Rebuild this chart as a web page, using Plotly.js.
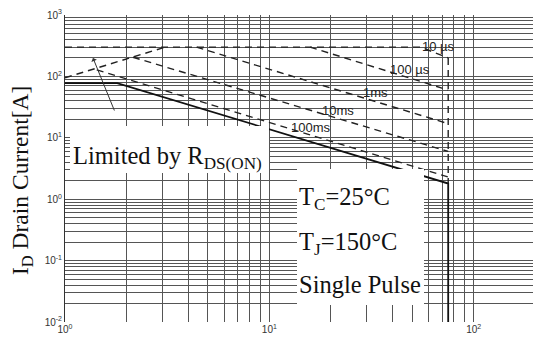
<!DOCTYPE html>
<html>
<head>
<meta charset="utf-8">
<script src="https://cdn.plot.ly/plotly-3.0.1.min.js"></script>
<style>html,body{margin:0;padding:0;background:#fff;}#chart{width:535px;height:347px;}</style>
</head>
<body>
<div id="chart"></div>
<script>
// ---- data (V_DS in volts, I_D in amperes) ----
const rdsV = [1, 3.1];          const rdsI = [95, 300];
const us10V = [1, 55, 75];      const us10I = [300, 300, 200];
const us100V = [15.8, 75];      const us100I = [300, 60];
const ms1V = [4.4, 75];         const ms1I = [300, 17];
const ms10V = [2.15, 75];       const ms10I = [205, 6.0];
const ms100V = [1.43, 75];      const ms100I = [128, 2.3];
const dcV = [1, 1.8, 75, 75];   const dcI = [78, 78, 1.8, 0.01];
const bvV = [75, 75];           const bvI = [200, 1.8];

const curveLabels = ["10 µs", "100 µs", "1ms", "10ms", "100ms"];
const xDecades = [1, 10, 100];
const yDecades = [0.01, 0.1, 1, 10, 100, 1000];
const xTickText = ["10<sup>0</sup>", "10<sup>1</sup>", "10<sup>2</sup>"];
const yTickText = ["10<sup>-2</sup>", "10<sup>-1</sup>", "10<sup>0</sup>", "10<sup>1</sup>", "10<sup>2</sup>", "10<sup>3</sup>"];

// grid positions (1..9 per decade)
function gridVals(decs) {
  const out = [];
  decs.forEach((d, i) => {
    if (i === decs.length - 1) { out.push(d); return; }
    for (let k = 1; k <= 9; k++) out.push(+(d * k).toPrecision(3));
  });
  return out;
}
const xGrid = gridVals(xDecades);
const yGrid = gridVals(yDecades);
const xText = xGrid.map(v => { const i = xDecades.indexOf(v); return i >= 0 ? xTickText[i] : ""; });
const yText = yGrid.map(v => { const i = yDecades.indexOf(v); return i >= 0 ? yTickText[i] : ""; });

const dashStyle = {color: "#222", width: 1.4, dash: "7px,5px"};
function tr(x, y, line) { return {x: x, y: y, mode: "lines", line: line, hoverinfo: "skip", showlegend: false}; }

const data = [
  tr(rdsV, rdsI, dashStyle),
  tr(us10V, us10I, dashStyle),
  tr(us100V, us100I, dashStyle),
  tr(ms1V, ms1I, dashStyle),
  tr(ms10V, ms10I, dashStyle),
  tr(ms100V, ms100I, dashStyle),
  tr(bvV, bvI, dashStyle),
  tr(dcV, dcI, {color: "#111", width: 1.8})
];

// pixel helpers for decorations (plot area: left 65, top 15, width 468, height 307)
const L = 65, T = 15, W = 468, H = 307;
const px = X => (X - L) / W;
const py = Y => (T + H - Y) / H;

const serif = {family: "Liberation Serif, Times New Roman, serif", size: 24.5, color: "#111"};
const sans = {family: "Liberation Sans, Arial, sans-serif", size: 13, color: "#222"};

const labelPos = [[438, 46], [410, 69], [375, 92], [338, 110], [311, 127]];
const annotations = curveLabels.map((t, i) => ({
  text: t, xref: "paper", yref: "paper", x: px(labelPos[i][0]), y: py(labelPos[i][1]),
  xanchor: "center", yanchor: "middle", showarrow: false, font: sans
}));

annotations.push(
  {text: "Limited by R<sub>DS(ON)</sub>", xref: "paper", yref: "paper", x: px(71), y: py(157),
   xanchor: "left", yanchor: "middle", showarrow: false, font: serif},
  {text: "T<sub>C</sub>=25°C", xref: "paper", yref: "paper", x: px(297), y: py(198),
   xanchor: "left", yanchor: "middle", showarrow: false, font: serif},
  {text: "T<sub>J</sub>=150°C", xref: "paper", yref: "paper", x: px(297), y: py(243),
   xanchor: "left", yanchor: "middle", showarrow: false, font: serif},
  {text: "Single Pulse", xref: "paper", yref: "paper", x: px(297), y: py(284),
   xanchor: "left", yanchor: "middle", showarrow: false, font: serif},
  {text: "I<sub>D</sub> Drain Current[A]", xref: "paper", yref: "paper", x: px(22), y: py(181),
   xanchor: "center", yanchor: "middle", textangle: -90, showarrow: false,
   font: Object.assign({}, serif, {size: 23.5})},
  {text: "", xref: "paper", yref: "paper", x: px(93), y: py(58), ax: 22, ay: 54,
   showarrow: true, arrowhead: 1, arrowsize: 1, arrowwidth: 1, arrowcolor: "#333"}
);

const shapes = [
  {type: "rect", xref: "paper", yref: "paper", x0: px(70), x1: px(269), y0: py(173), y1: py(126),
   fillcolor: "#fff", line: {width: 0}, layer: "above"},
  {type: "rect", xref: "paper", yref: "paper", x0: px(297), x1: px(424), y0: py(305), y1: py(169),
   fillcolor: "#fff", line: {width: 0}, layer: "above"}
];

const tickFont = {family: "Liberation Sans, Arial, sans-serif", size: 10, color: "#333"};
const layout = {
  width: 535, height: 347,
  margin: {l: L, r: 535 - L - W, t: T, b: 347 - T - H, pad: 0},
  paper_bgcolor: "#fff", plot_bgcolor: "#fff",
  showlegend: false,
  xaxis: {type: "log", range: [0, 2.29], tickmode: "array", tickvals: xGrid, ticktext: xText,
          tickangle: 0, showgrid: true, gridcolor: "#555", gridwidth: 1, zeroline: false,
          showline: false, ticks: "", tickfont: tickFont},
  yaxis: {type: "log", range: [-2, 3], tickmode: "array", tickvals: yGrid, ticktext: yText,
          tickangle: 0, showgrid: true, gridcolor: "#555", gridwidth: 1, zeroline: false,
          showline: true, linecolor: "#333", linewidth: 1, ticks: "", tickfont: tickFont},
  annotations: annotations,
  shapes: shapes
};

Plotly.newPlot("chart", data, layout, {staticPlot: true, displayModeBar: false});
</script>
</body>
</html>
